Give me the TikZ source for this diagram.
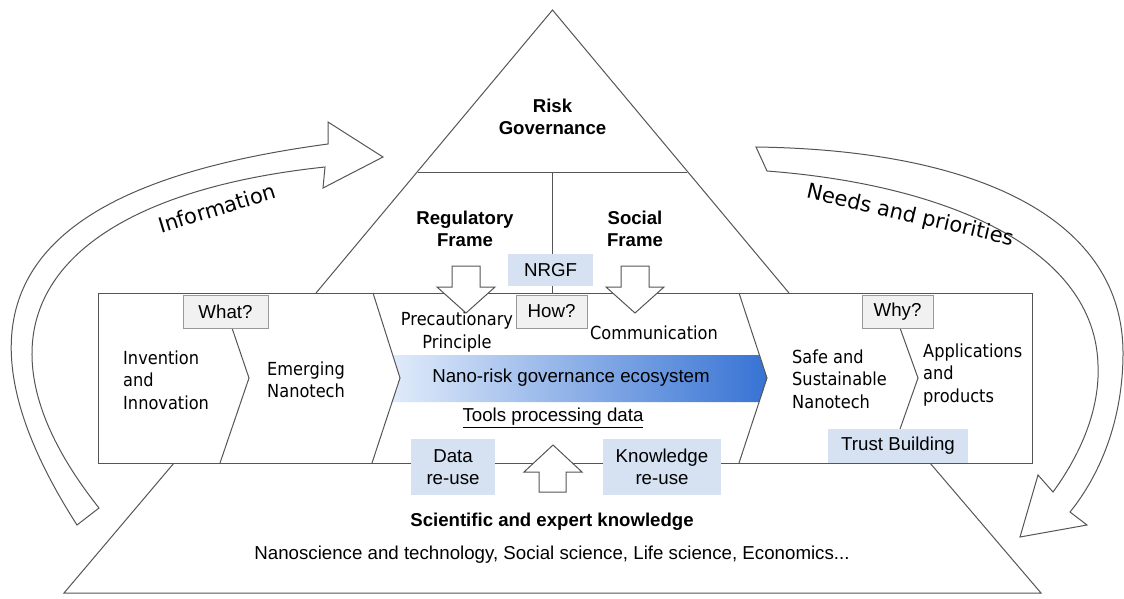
\documentclass[tikz,border=0pt]{standalone}
\usepackage{fontspec}
\setmainfont{Liberation Sans}
\newfontfamily\verdfont[FakeStretch=0.9]{DejaVu Sans}
\newfontfamily\flowfont{DejaVu Sans}
\definecolor{boxblue}{RGB}{214,226,242}
\definecolor{boxgrey}{RGB}{241,241,241}
\definecolor{ecolight}{RGB}{224,235,250}
\definecolor{ecodark}{RGB}{55,115,212}
\definecolor{linegrey}{RGB}{85,85,85}
\tikzset{
	outline/.style={draw=linegrey, line width=1pt},
	bigarrow/.style={outline, fill=white},
	askbox/.style={draw=black!40, fill=boxgrey, minimum width=71pt, minimum height=33pt, inner sep=0pt},
	tagbox/.style={fill=boxblue, inner sep=0pt},
	plain/.style={font=\fontsize{18.7}{22}\selectfont, align=center, inner sep=0pt},
	heading/.style={font=\bfseries\fontsize{18.6}{22}\selectfont, align=center, inner sep=0pt},
	stage/.style={font=\verdfont\fontsize{18}{22.5}\selectfont, align=left, anchor=west, inner sep=0pt},
	flowlabel/.style={font=\flowfont\fontsize{21}{24}\selectfont, inner sep=0pt},
}
\begin{document}
\begin{tikzpicture}[x=1pt, y=-1pt]
	\useasboundingbox (0,0) rectangle (1124,598);
	% knowledge base and governance pyramid
	\draw [outline] (174,463) -- (64,593) -- (1041,593) -- (930,463);
	\draw [outline] (316,293) -- (552.5,10) -- (789,293);
	\draw [outline] (418,172) -- (687,172);
	\draw [outline] (552.5,172) -- (552.5,293);
	\node [heading] (riskgov) at (552.5,117) {Risk\\Governance};
	\node [heading] (regframe) at (465,229) {Regulatory\\Frame};
	\node [heading] (socframe) at (635,229) {Social\\Frame};
	\node [tagbox, plain, minimum width=85pt, minimum height=32pt] (nrgf) at (550.5,270) {NRGF};
	\node [heading] (science) at (552,522) {Scientific and expert knowledge};
	\node [plain] (fields) at (552,555) {Nanoscience and technology, Social science, Life science, Economics...};

	% value chain band
	\draw [outline, fill=white] (98,293) rectangle (1032,463);
	\shade [left color=ecolight, right color=ecodark] (393,355) -- (759,355) -- (767,378) -- (759,402) -- (392,402) -- (400,378) -- cycle;
	\draw [outline] (232,328) -- (249,378) -- (220,463);
	\draw [outline] (373,293) -- (400,378) -- (372,463);
	\draw [outline] (739,293) -- (767,378) -- (739,463);
	\draw [outline] (900,328) -- (918,378) -- (900,429);
	\node [askbox, plain, minimum width=85pt] (what) at (225.5,311.5) {What?};
	\node [askbox, plain] (how) at (551.5,311.5) {How?};
	\node [askbox, plain] (why) at (897.5,311.5) {Why?};
	\node [stage] (invent) at (123,380) {Invention\\and\\Innovation};
	\node [stage] (emerging) at (267,380) {Emerging\\Nanotech};
	\node [stage] (safe) at (792,379) {Safe and\\Sustainable\\Nanotech};
	\node [stage] (apps) at (923,375) {Applications\\and\\products};
	\node [stage, align=center, anchor=center] (precaution) at (457,332) {Precautionary\\Principle};
	\node [stage, anchor=center] (comm) at (654,333) {Communication};
	\node [plain] (ecosystem) at (571,378) {Nano-risk governance ecosystem};
	\node [plain] (tools) at (553,418) {\underline{Tools processing data}};
	\node [tagbox, plain, minimum width=84pt, minimum height=56pt] (datareuse) at (453,467) {Data\\re-use};
	\node [tagbox, plain, minimum width=118pt, minimum height=56pt] (knowreuse) at (662,467) {Knowledge\\re-use};
	\node [tagbox, plain, minimum width=140pt, minimum height=34pt] (trust) at (898,446) {Trust Building};

	% block arrows between the levels
	\foreach \ax in {466,635}
		\draw [bigarrow] (\ax-14,266) -- (\ax+14,266) -- (\ax+14,287) -- (\ax+29,287) -- (\ax,313) -- (\ax-29,287) -- (\ax-14,287) -- cycle;
	\draw [bigarrow] (539,492) -- (539,472) -- (524,472) -- (553,445) -- (582,472) -- (566,472) -- (566,492) -- cycle;

	% feedback loops
	\draw [bigarrow] (77,525) .. controls (-80,280) and (60,180) .. (328,144) -- (328,122) -- (383,157) -- (323,188) -- (325,167) .. controls (60,195) and (-50,320) .. (99,508) -- cycle;
	\node [flowlabel, rotate=17] (info) at (217,208) {Information};
	\draw [bigarrow] (756,147) .. controls (980,150) and (1123,220) .. (1123,353) .. controls (1123,420) and (1100,475) .. (1070,512) -- (1087,525) -- (1020,537) -- (1038,475) -- (1053,492) .. controls (1080,455) and (1100,410) .. (1098,365) .. controls (1095,250) and (950,185) .. (767,171) -- cycle;
	\node [flowlabel, rotate=-13] (needs) at (910,216) {Needs and priorities};
\end{tikzpicture}
\end{document}
